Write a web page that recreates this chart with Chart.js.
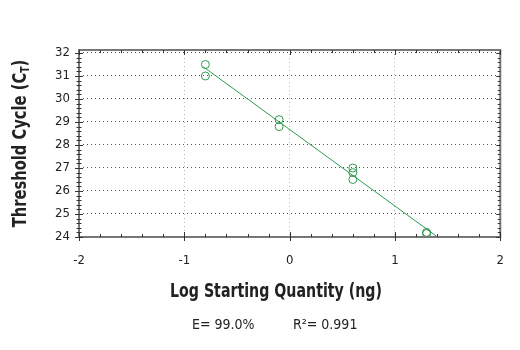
<!DOCTYPE html>
<html>
<head>
<meta charset="utf-8">
<script src="https://cdn.jsdelivr.net/npm/chart.js@4"></script>
<style>
  html, body { margin: 0; padding: 0; background: #fff; }
  #wrap { width: 520px; height: 350px; }
</style>
</head>
<body>
<div id="wrap"><canvas id="chart" width="520" height="350"></canvas></div>
<script>
// log starting quantity (ng) and threshold cycle
const logQty = [-0.8, -0.8, -0.1, -0.1, 0.6, 0.6, 0.6, 1.3, 1.3]
const ctValues = [31.5, 31.0, 29.1, 28.8, 27.0, 26.8, 26.5, 24.2, 24.15]
// fitted line endpoints
const fitX = [-0.82, 1.39]
const fitY = [31.4, 24.05]
const xTicks = [-2, -1, 0, 1, 2]
const yTicks = [24, 25, 26, 27, 28, 29, 30, 31, 32]
const xTitle = 'Log Starting Quantity (ng)'
const yTitle = 'Threshold Cycle (C'
const yTitleSub = 'T'
const statsE = 'E= 99.0%'
const statsR = 'R²= 0.991'

const green = '#2f9a4e'
const narrow = '"Liberation Sans Narrow", "DejaVu Sans Condensed", "Liberation Sans", sans-serif'

const extras = {
    id: 'extras',
    afterDraw(chart) {
        const ctx = chart.ctx
        const { left, right, top, bottom } = chart.chartArea
        const xs = chart.scales.x, ys = chart.scales.y
        ctx.save()
        // frame
        ctx.strokeStyle = '#777'
        ctx.lineWidth = 2
        ctx.strokeRect(left, top, right - left, bottom - top)

        ctx.strokeStyle = '#333'
        ctx.lineWidth = 1
        // minor ticks on x (top and bottom, pointing inward)
        for (let v = -2; v <= 2.001; v += 0.2) {
            const px = Math.round(xs.getPixelForValue(v)) + 0.5
            const major = Math.abs(v - Math.round(v)) < 0.01
            const len = major ? 5 : 3
            ctx.beginPath()
            ctx.moveTo(px, bottom); ctx.lineTo(px, bottom - len)
            ctx.moveTo(px, top); ctx.lineTo(px, top + len)
            if (major) { ctx.moveTo(px, bottom); ctx.lineTo(px, bottom + 4) }
            ctx.stroke()
        }
        // minor ticks on y (left crossing, right inward)
        for (let v = 24; v <= 32.001; v += 0.2) {
            const py = Math.round(ys.getPixelForValue(v)) + 0.5
            const major = Math.abs(v - Math.round(v)) < 0.01
            const len = major ? 4 : 2.5
            ctx.beginPath()
            ctx.moveTo(left - len, py); ctx.lineTo(left + len, py)
            ctx.moveTo(right, py); ctx.lineTo(right - len, py)
            ctx.stroke()
        }
        // axis titles (condensed horizontally to imitate a narrow face)
        ctx.fillStyle = '#222'
        ctx.textBaseline = 'middle'
        ctx.save()
        ctx.translate(276, 292)
        ctx.scale(0.83, 1)
        ctx.font = 'bold 19px ' + narrow
        ctx.textAlign = 'center'
        ctx.fillText(xTitle, 0, 0)
        ctx.restore()

        ctx.save()
        ctx.translate(21, (top + bottom) / 2)
        ctx.rotate(-Math.PI / 2)
        ctx.scale(0.86, 1)
        ctx.font = 'bold 19px ' + narrow
        const mainW = ctx.measureText(yTitle).width
        ctx.font = 'bold 12px ' + narrow
        const subW = ctx.measureText(yTitleSub).width
        ctx.font = 'bold 19px ' + narrow
        const closeW = ctx.measureText(')').width
        const total = mainW + subW + closeW
        const x0 = -total / 2
        ctx.textAlign = 'left'
        ctx.fillText(yTitle, x0, 0)
        ctx.font = 'bold 12px ' + narrow
        ctx.fillText(yTitleSub, x0 + mainW, 5)
        ctx.font = 'bold 19px ' + narrow
        ctx.fillText(')', x0 + mainW + subW, 0)
        ctx.restore()

        // stats line
        ctx.font = '14px ' + narrow
        ctx.textAlign = 'left'
        ctx.fillStyle = '#222'
        ctx.fillText(statsE, 192, 325)
        ctx.fillText(statsR, 293, 325)
        ctx.restore()
    }
}

new Chart(document.getElementById('chart'), {
    type: 'scatter',
    data: {
        datasets: [
            {
                label: 'Samples',
                data: logQty.map((x, i) => ({ x: x, y: ctValues[i] })),
                pointStyle: 'circle',
                pointRadius: 4,
                pointBorderWidth: 1,
                borderColor: green,
                backgroundColor: 'rgba(0,0,0,0)',
                showLine: false
            },
            {
                label: 'Fit',
                data: fitX.map((x, i) => ({ x: x, y: fitY[i] })),
                showLine: true,
                borderColor: green,
                borderWidth: 1,
                pointRadius: 0
            }
        ]
    },
    options: {
        responsive: false,
        animation: false,
        layout: { padding: { left: 0, right: 15, top: 50, bottom: 0 } },
        plugins: { legend: { display: false }, tooltip: { enabled: false } },
        scales: {
            x: {
                type: 'linear',
                min: -2, max: 2,
                afterBuildTicks: (s) => { s.ticks = xTicks.map(v => ({ value: v })) },
                afterFit: (s) => { s.height = 113 },
                grid: {
                    color: (c) => (c.tick && (c.tick.value === -2 || c.tick.value === 2)) ? 'rgba(0,0,0,0)' : '#b5b5b5',
                    drawTicks: false,
                    lineWidth: 1
                },
                border: { display: false, dash: [1, 3] },
                ticks: { color: '#222', font: { family: narrow, size: 13 }, padding: 16 }
            },
            y: {
                type: 'linear',
                min: 24, max: 32.13,
                afterBuildTicks: (s) => { s.ticks = yTicks.map(v => ({ value: v })) },
                afterFit: (s) => { s.width = 79 },
                grid: {
                    color: (c) => (c.tick && c.tick.value === 24) ? 'rgba(0,0,0,0)' : '#555',
                    drawTicks: false,
                    lineWidth: 1
                },
                border: { display: false, dash: [1, 3] },
                ticks: { color: '#222', font: { family: narrow, size: 13 }, padding: 9 }
            }
        }
    },
    plugins: [extras]
})
</script>
</body>
</html>
